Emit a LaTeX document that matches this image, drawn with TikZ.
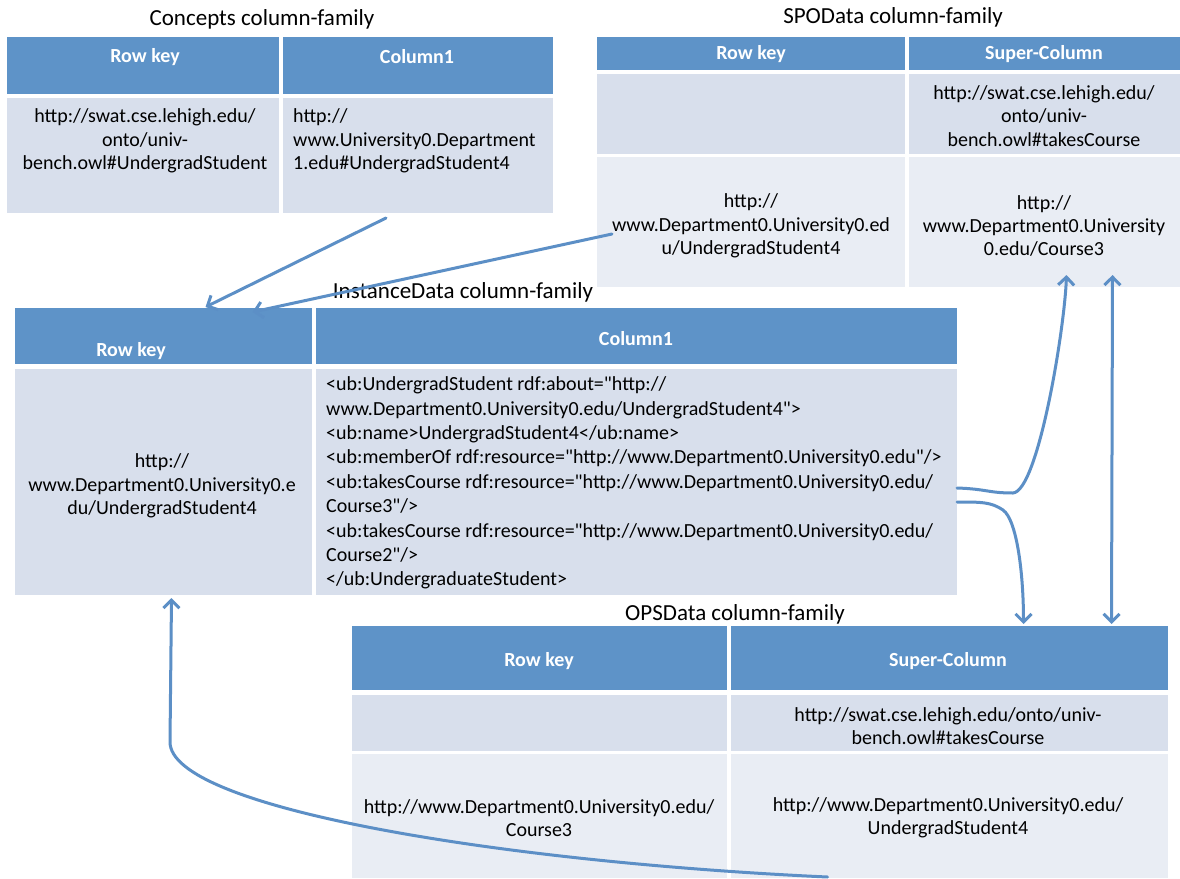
\documentclass[tikz,border=0pt]{standalone}
\usepackage{fontspec}
\setmainfont{Carlito}[Ligatures=TeXOff]
\usetikzlibrary{arrows.meta,calc}
\definecolor{hdr}{HTML}{5E93C8}
\definecolor{bandA}{HTML}{D8DFEC}
\definecolor{bandB}{HTML}{E9EDF4}
\definecolor{linkc}{HTML}{5C8FC6}
% table cell: style, name, x1, y1, x2, y2 (pixel-like units, y downwards)
\newcommand\tcell[6]{\node[#1,minimum width={(#5-#3)*1pt},minimum height={(#6-#4)*1pt}] (#2) at ({(#3+#5)/2},{(#4+#6)/2}) {};}
\begin{document}
\begin{tikzpicture}[x=1pt,y=-1pt,
  cellbox/.style={draw=none,inner sep=0pt,outer sep=0pt,rectangle},
  head/.style={cellbox,fill=hdr},
  bodyA/.style={cellbox,fill=bandA},
  bodyB/.style={cellbox,fill=bandB},
  ttl/.style={font=\fontsize{23}{27}\selectfont,inner sep=0pt},
  htxt/.style={font=\fontsize{20}{24}\selectfont\bfseries,text=white,inner sep=0pt},
  btxt/.style={font=\fontsize{20}{23.3}\selectfont,inner sep=0pt,align=center},
  ltxt/.style={font=\fontsize{20}{23.3}\selectfont,inner sep=0pt,align=left,anchor=west},
  barb/.tip={Straight Barb[length=8pt,width=16pt,line width=3pt]},
  link/.style={draw=linkc,line width=3pt,line cap=round,-barb},
  dlink/.style={draw=linkc,line width=3pt,barb-barb}
]
\useasboundingbox (0,0) rectangle (1180,878);
\fill[white] (0,0) rectangle (1180,878);

% ---- Concepts column-family
\node[ttl] (c_title) at (262,19) {Concepts column-family};
\tcell{head}{c_hk}{7}{37}{279}{94}
\tcell{head}{c_hc}{283}{37}{553}{94}
\tcell{bodyA}{c_bk}{7}{98}{279}{213}
\tcell{bodyA}{c_bc}{283}{98}{553}{213}
\node[htxt] (c_hk_t) at (145,57) {Row key};
\node[htxt] (c_hc_t) at (417,57) {Column1};
\node[btxt] (c_bk_t) at (145,141) {http://swat.cse.lehigh.edu/\\onto/univ-\\bench.owl\#UndergradStudent};
\node[ltxt] (c_bc_t) at (293,141) {http://\\www.University0.Department\\1.edu\#UndergradStudent4};

% ---- SPOData column-family
\node[ttl] (s_title) at (893,17) {SPOData column-family};
\tcell{head}{s_hk}{597}{37}{905}{70}
\tcell{head}{s_hc}{909}{37}{1180}{70}
\tcell{bodyA}{s_1k}{597}{74}{905}{154}
\tcell{bodyA}{s_1c}{909}{74}{1180}{154}
\tcell{bodyB}{s_2k}{597}{157}{905}{287}
\tcell{bodyB}{s_2c}{909}{157}{1180}{287}
\node[htxt] (s_hk_t) at (751,54) {Row key};
\node[htxt] (s_hc_t) at (1044,54) {Super-Column};
\node[btxt] (s_1c_t) at (1044,116) {http://swat.cse.lehigh.edu/\\onto/univ-\\bench.owl\#takesCourse};
\node[btxt] (s_2k_t) at (751,226) {http://\\www.Department0.University0.ed\\u/UndergradStudent4};
\node[btxt] (s_2c_t) at (1044,226) {http://\\www.Department0.University\\0.edu/Course3};

% ---- InstanceData column-family
\node[ttl] (i_title) at (463,292) {InstanceData column-family};
\tcell{head}{i_hk}{15}{308}{312}{364}
\tcell{head}{i_hc}{316}{308}{957}{364}
\tcell{bodyA}{i_bk}{15}{369}{312}{595}
\tcell{bodyA}{i_bc}{316}{369}{957}{595}
\node[htxt] (i_hk_t) at (131,351) {Row key};
\node[htxt] (i_hc_t) at (636,339) {Column1};
\node[btxt] (i_bk_t) at (162,486) {http://\\www.Department0.University0.e\\du/UndergradStudent4};
\node[ltxt,font=\fontsize{20}{24.4}\selectfont] (i_bc_t) at (326,483) {<ub:UndergradStudent rdf:about="http://\\www.Department0.University0.edu/UndergradStudent4">\\<ub:name>UndergradStudent4</ub:name>\\<ub:memberOf rdf:resource="http://www.Department0.University0.edu"/>\\<ub:takesCourse rdf:resource="http://www.Department0.University0.edu/\\Course3"/>\\<ub:takesCourse rdf:resource="http://www.Department0.University0.edu/\\Course2"/>\\</ub:UndergraduateStudent>};

% ---- OPSData column-family
\node[ttl] (o_title) at (735,614) {OPSData column-family};
\tcell{head}{o_hk}{352}{626}{727}{690}
\tcell{head}{o_hc}{731}{626}{1168}{690}
\tcell{bodyA}{o_1k}{352}{695}{727}{751}
\tcell{bodyA}{o_1c}{731}{695}{1168}{751}
\tcell{bodyB}{o_2k}{352}{754}{727}{878}
\tcell{bodyB}{o_2c}{731}{754}{1168}{878}
\node[htxt] (o_hk_t) at (539,661) {Row key};
\node[htxt] (o_hc_t) at (948,661) {Super-Column};
\node[btxt] (o_1c_t) at (948,726) {http://swat.cse.lehigh.edu/onto/univ-\\bench.owl\#takesCourse};
\node[btxt] (o_2k_t) at (539,818) {http://www.Department0.University0.edu/\\Course3};
\node[btxt] (o_2c_t) at (948,818) {http://www.Department0.University0.edu/\\UndergradStudent4};

% ---- connectors
\coordinate (tail6) at ($(o_2c.south)+(-122,-1)$);
\draw[link] ($(c_bc.south)+(-32,5)$) -- ($(i_hk.north)+(42,-1)$);
\draw[link] ($(s_2k.west)+(15,12)$) -- ($(i_hk.north)+(89,4)$);
\draw[link] ($(i_bc.east)+(0,6)$) .. controls +(30,1) and +(-25,0) .. (1013,493)
  .. controls +(25,-2) and +(-2,55) .. ($(s_2c.south)+(22,-12)$);
\draw[link] ($(i_bc.east)+(0,20)$) .. controls +(25,0) and +(-12,-8) .. (1003,510)
  .. controls +(14,10) and +(0,-50) .. ($(o_hc.north)+(74,-2)$);
\draw[dlink] ($(s_2c.south)+(68,-12)$) -- ($(o_hc.north)+(162,-2)$);
\draw[link] (tail6) .. controls (500,862) and (170,808) .. (170,742) -- ($(i_bk.south)+(8,3)$);
\end{tikzpicture}
\end{document}
